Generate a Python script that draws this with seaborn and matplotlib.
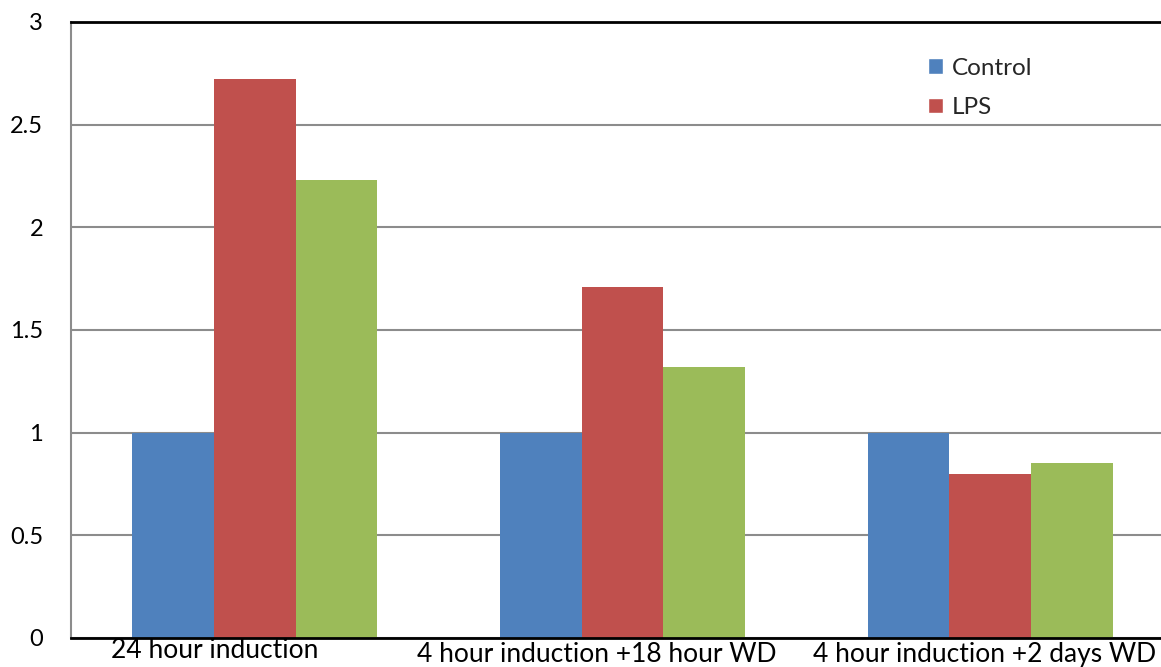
import matplotlib
matplotlib.use("Agg")
import matplotlib.pyplot as plt
import seaborn as sns
import pandas as pd
from matplotlib.patches import Patch

# Data
categories = ["24 hour induction", "4 hour induction +18 hour WD", "4 hour induction +2 days WD"]
control = [1.0, 1.0, 1.0]
lps = [2.72, 1.71, 0.80]
third = [2.23, 1.32, 0.85]
series_names = ["Control", "LPS", "Series3"]
colors = ["#4F81BD", "#C0504D", "#9BBB59"]
y_ticks = [0, 0.5, 1, 1.5, 2, 2.5, 3]
y_tick_labels = ["0", "0.5", "1", "1.5", "2", "2.5", "3"]

rows = []
for name, vals in zip(series_names, [control, lps, third]):
    for cat, v in zip(categories, vals):
        rows.append({"category": cat, "series": name, "value": v})
df = pd.DataFrame(rows)

sns.set_theme(style="white")
plt.rcParams["font.family"] = ["Lato", "DejaVu Sans"]

fig = plt.figure(figsize=(11.61, 6.67), dpi=100)
ax = fig.add_axes([71 / 1161, 29 / 667, (1174 - 71) / 1161, (638 - 22) / 667])

sns.barplot(data=df, x="category", y="value", hue="series", order=categories,
            hue_order=series_names, palette=colors, width=0.667, dodge=True,
            saturation=1, linewidth=0, errorbar=None, ax=ax, legend=False)

ax.set_xlim(-0.5, 2.5)
ax.set_ylim(0, 3)
ax.set_yticks(y_ticks)
ax.set_yticklabels(y_tick_labels, fontsize=17)
ax.set_xticks([])
ax.set_xlabel("")
ax.set_ylabel("")

# Horizontal gridlines behind bars
ax.set_axisbelow(True)
ax.yaxis.grid(True, color="#8c8c8c", linewidth=1.5)
ax.tick_params(axis="y", length=8, width=1.5, color="#8c8c8c", pad=12, labelcolor="black")

for side in ["top", "bottom"]:
    ax.spines[side].set_color("black")
    ax.spines[side].set_linewidth(2)
ax.spines["left"].set_color("#8c8c8c")
ax.spines["left"].set_linewidth(1.5)
ax.spines["right"].set_visible(False)

# Category labels, staggered below the axis (offsets: data x shift, baseline drop in px)
label_offsets = [(-0.109, 20), (-0.071, 24), (-0.014, 24)]
for i, (cat, (dx, drop)) in enumerate(zip(categories, label_offsets)):
    ax.annotate(cat, xy=(i + dx, 0), xycoords=("data", "axes fraction"),
                xytext=(0, -drop), textcoords="offset pixels",
                ha="center", va="baseline", fontsize=19, color="black",
                annotation_clip=False)

handles = [Patch(facecolor=colors[0], label=series_names[0]),
           Patch(facecolor=colors[1], label=series_names[1])]
leg = ax.legend(handles=handles, loc="upper left", bbox_to_anchor=(0.777, 0.942),
                frameon=False, fontsize=17.5, handlelength=0.62, handleheight=0.62,
                handletextpad=0.35, labelspacing=0.75, borderaxespad=0, borderpad=0)

fig.savefig("out.png", dpi=100)
